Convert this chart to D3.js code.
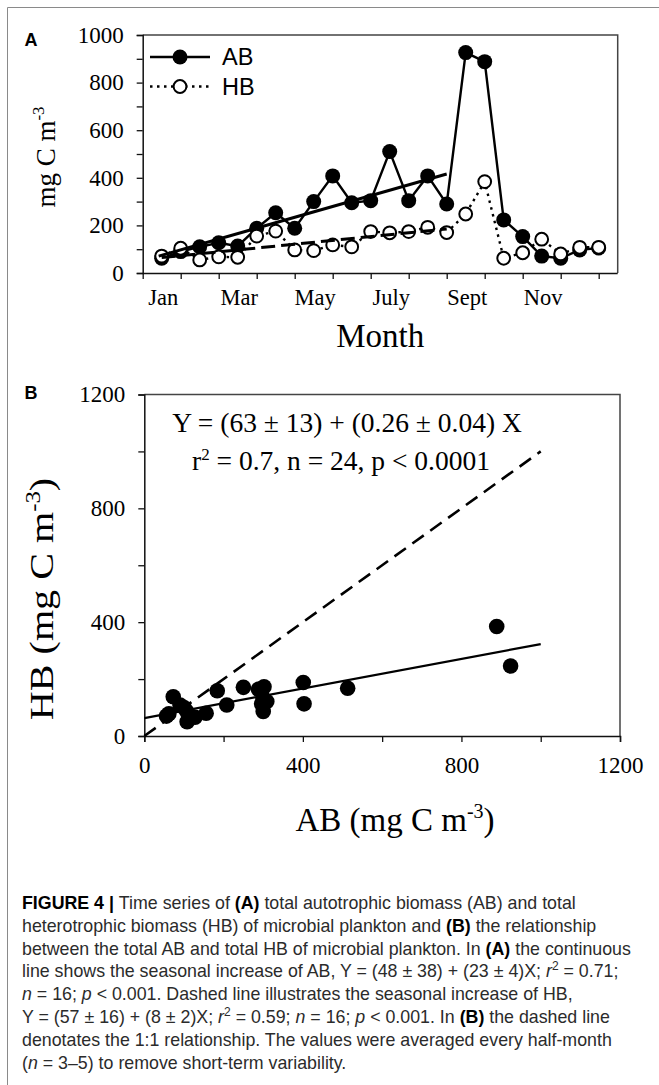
<!DOCTYPE html>
<html>
<head>
<meta charset="utf-8">
<script src="https://cdn.jsdelivr.net/npm/d3@7"></script>
<style>
  html, body { margin: 0; padding: 0; background: #fff; }
  svg { display: block; }
</style>
</head>
<body>
<script>
// ---------- DATA ----------
// Panel A: half-month index (1 = first half of Jan ... 24 = second half of Dec)
const halfMonth = [1, 2, 3, 4, 5, 6, 7, 8, 9, 10, 11, 12, 13, 14, 15, 16, 17, 18, 19, 20, 21, 22, 23, 24];
const abSeries = [62, 90, 110, 127, 113, 188, 253, 188, 300, 408, 295, 304, 510, 304, 408, 290, 926, 888, 223, 153, 71, 62, 97, 105];
const hbSeries = [71, 104, 55, 68, 66, 155, 176, 97, 94, 118, 110, 174, 169, 174, 192, 170, 248, 384, 62, 85, 142, 80, 108, 108];
const monthLabels = ["Jan", "Mar", "May", "July", "Sept", "Nov"];
const monthLabelPos = [1, 5, 9, 13, 17, 21];          // half-month index of label centre
const monthTickPos = [0, 2, 4, 6, 8, 10, 12, 14, 16, 18, 20, 22, 24];
const yTicksA = [0, 100, 200, 300, 400, 500, 600, 700, 800, 900, 1000];
// seasonal trend fits (half-month index range 1..16)
const abFit = { a: 48, b: 23, from: 1, to: 16 };
const hbFit = { a: 57, b: 8, from: 1, to: 16 };

// Panel B: AB vs HB
const abB = [56, 73, 90, 107, 108, 128, 156, 184, 208, 250, 288, 302, 300, 309, 296, 300, 401, 403, 513, 889, 924, 62, 100, 115];
const hbB = [70, 138, 109, 86, 50, 66, 80, 159, 109, 171, 164, 173, 133, 121, 113, 86, 188, 113, 168, 385, 246, 78, 100, 70];
const ticksB = [0, 200, 400, 600, 800, 1000, 1200];
const fitB = { a: 63, b: 0.26, from: 0, to: 1000 };
const oneToOne = [0, 1000];

const captionLines = [
  [["b","FIGURE 4 | "],["n","Time series of "],["b","(A)"],["n"," total autotrophic biomass (AB) and total"]],
  [["n","heterotrophic biomass (HB) of microbial plankton and "],["b","(B)"],["n"," the relationship"]],
  [["n","between the total AB and total HB of microbial plankton. In "],["b","(A)"],["n"," the continuous"]],
  [["n","line shows the seasonal increase of AB, Y = (48 \u00b1 38) + (23 \u00b1 4)X; "],["i","r"],["s","2"],["n"," = 0.71;"]],
  [["i","n"],["n"," = 16; "],["i","p"],["n"," < 0.001. Dashed line illustrates the seasonal increase of HB,"]],
  [["n","Y = (57 \u00b1 16) + (8 \u00b1 2)X; "],["i","r"],["s","2"],["n"," = 0.59; "],["i","n"],["n"," = 16; "],["i","p"],["n"," < 0.001. In "],["b","(B)"],["n"," the dashed line"]],
  [["n","denotates the 1:1 relationship. The values were averaged every half-month"]],
  [["n","("],["i","n"],["n"," = 3\u20135) to remove short-term variability."]]
];

// ---------- DRAW ----------
const W = 659, H = 1085;
const SERIF = "'Liberation Serif', 'Times New Roman', serif";
const SANS = "'Liberation Sans', Arial, Helvetica, sans-serif";

const svg = d3.select("body").append("svg").attr("width", W).attr("height", H);

// outer figure border
svg.append("path").attr("d", `M7.5,${H} V7.5 H${W}`)
  .attr("fill", "none").attr("stroke", "#8a8a8a").attr("stroke-width", 1);

// ===== Panel A =====
const xA = d3.scaleLinear().domain([0, 25]).range([142.7, 617.7]);
const yA = d3.scaleLinear().domain([0, 1000]).range([273, 35]);

const gA = svg.append("g");
gA.append("path").attr("d", `M${xA(0)},${yA(1000)} H${xA(25)} V${yA(0)}`)
  .attr("fill", "none").attr("stroke", "#444").attr("stroke-width", 1.5);

const axLA = gA.append("g").attr("transform", `translate(${xA(0)},0)`)
  .call(d3.axisLeft(yA).tickValues(yTicksA).tickSize(6).tickPadding(13)
    .tickFormat(d => d % 200 === 0 ? d : ""));
const axBA = gA.append("g").attr("transform", `translate(0,${yA(0)})`)
  .call(d3.axisBottom(xA).tickValues(monthTickPos).tickSize(6).tickFormat(""));
[axLA, axBA].forEach(a => {
  a.select(".domain").attr("stroke", "#111").attr("stroke-width", 1.5);
  a.selectAll(".tick line").attr("stroke", "#111").attr("stroke-width", 1.3);
  a.selectAll("text").attr("font-family", SERIF).attr("font-size", 23).attr("fill", "#000");
});
axBA.select(".domain").attr("d", `M${xA(0)},0.5H${xA(25)}`);

gA.selectAll(".mlab").data(monthLabels).join("text")
  .attr("x", (d, i) => xA(monthLabelPos[i]) + 1.5).attr("y", 305)
  .attr("text-anchor", "middle").attr("font-family", SERIF).attr("font-size", 22.5)
  .text(d => d);

gA.append("text").attr("x", xA(12.5)).attr("y", 347).attr("text-anchor", "middle")
  .attr("font-family", SERIF).attr("font-size", 33).text("Month");
const ytA = gA.append("text").attr("transform", "translate(55,157) rotate(-90)")
  .attr("text-anchor", "middle").attr("font-family", SERIF).attr("font-size", 27);
ytA.append("tspan").text("mg C m");
ytA.append("tspan").attr("dy", -11).attr("font-size", 17).text("-3");

svg.append("text").attr("x", 24.5).attr("y", 45.5).attr("font-family", SANS)
  .attr("font-weight", "bold").attr("font-size", 18).text("A");

const ptsAB = halfMonth.map((k, i) => [k, abSeries[i]]);
const ptsHB = halfMonth.map((k, i) => [k, hbSeries[i]]);
const lineA = d3.line().x(d => xA(d[0])).y(d => yA(d[1]));

gA.append("path").attr("d", lineA(ptsAB)).attr("fill", "none")
  .attr("stroke", "#000").attr("stroke-width", 2.4);
gA.selectAll(".ab").data(ptsAB).join("circle")
  .attr("cx", d => xA(d[0])).attr("cy", d => yA(d[1])).attr("r", 7.5).attr("fill", "#000");

gA.append("path").attr("d", lineA(ptsHB)).attr("fill", "none")
  .attr("stroke", "#000").attr("stroke-width", 2.4).attr("stroke-dasharray", "2.5,4.5");
gA.selectAll(".hb").data(ptsHB).join("circle")
  .attr("cx", d => xA(d[0])).attr("cy", d => yA(d[1])).attr("r", 6.4)
  .attr("fill", "#fff").attr("stroke", "#000").attr("stroke-width", 2);

gA.append("line")
  .attr("x1", xA(abFit.from) - 3).attr("y1", yA(abFit.a + abFit.b * abFit.from))
  .attr("x2", xA(abFit.to)).attr("y2", yA(abFit.a + abFit.b * abFit.to))
  .attr("stroke", "#000").attr("stroke-width", 3);
gA.append("line")
  .attr("x1", xA(hbFit.from)).attr("y1", yA(hbFit.a + hbFit.b * hbFit.from))
  .attr("x2", xA(hbFit.to)).attr("y2", yA(hbFit.a + hbFit.b * hbFit.to))
  .attr("stroke", "#000").attr("stroke-width", 3).attr("stroke-dasharray", "14,6");

const lg = gA.append("g");
lg.append("line").attr("x1", 150).attr("x2", 210).attr("y1", 57).attr("y2", 57)
  .attr("stroke", "#000").attr("stroke-width", 2.4);
lg.append("circle").attr("cx", 180).attr("cy", 57).attr("r", 7.5).attr("fill", "#000");
lg.append("text").attr("x", 222).attr("y", 65).attr("font-family", SANS).attr("font-size", 23.5).text("AB");
lg.append("line").attr("x1", 150).attr("x2", 209).attr("y1", 86.5).attr("y2", 86.5)
  .attr("stroke", "#000").attr("stroke-width", 2.4).attr("stroke-dasharray", "2.5,4.5");
lg.append("circle").attr("cx", 180).attr("cy", 86.5).attr("r", 6.4)
  .attr("fill", "#fff").attr("stroke", "#000").attr("stroke-width", 2);
lg.append("text").attr("x", 222).attr("y", 94.5).attr("font-family", SANS).attr("font-size", 23.5).text("HB");

// ===== Panel B =====
const xB = d3.scaleLinear().domain([0, 1200]).range([144.3, 620]);
const yB = d3.scaleLinear().domain([0, 1200]).range([736, 394.5]);
const gB = svg.append("g");
gB.append("path").attr("d", `M${xB(0)},${yB(1200)} H${xB(1200)} V${yB(0)}`)
  .attr("fill", "none").attr("stroke", "#444").attr("stroke-width", 1.5);
const axLB = gB.append("g").attr("transform", `translate(${xB(0)},0)`)
  .call(d3.axisLeft(yB).tickValues(ticksB).tickSize(6).tickPadding(13)
    .tickFormat(d => d % 400 === 0 ? d : ""));
const axBB = gB.append("g").attr("transform", `translate(0,${yB(0)})`)
  .call(d3.axisBottom(xB).tickValues(ticksB).tickSize(6).tickPadding(15)
    .tickFormat(d => d % 400 === 0 ? d : ""));
[axLB, axBB].forEach(a => {
  a.select(".domain").attr("stroke", "#111").attr("stroke-width", 1.5);
  a.selectAll(".tick line").attr("stroke", "#111").attr("stroke-width", 1.3);
  a.selectAll("text").attr("font-family", SERIF).attr("font-size", 23).attr("fill", "#000");
});

gB.append("line").attr("x1", xB(oneToOne[0])).attr("y1", yB(oneToOne[0]))
  .attr("x2", xB(oneToOne[1])).attr("y2", yB(oneToOne[1]))
  .attr("stroke", "#000").attr("stroke-width", 2.6).attr("stroke-dasharray", "14,8");
gB.append("line").attr("x1", xB(fitB.from)).attr("y1", yB(fitB.a + fitB.b * fitB.from))
  .attr("x2", xB(fitB.to)).attr("y2", yB(fitB.a + fitB.b * fitB.to))
  .attr("stroke", "#000").attr("stroke-width", 2.2);
gB.selectAll(".pb").data(abB.map((v, i) => [v, hbB[i]])).join("circle")
  .attr("cx", d => xB(d[0])).attr("cy", d => yB(d[1])).attr("r", 7.8).attr("fill", "#000");

gB.append("text").attr("x", 347).attr("y", 432).attr("text-anchor", "middle")
  .attr("font-family", SERIF).attr("font-size", 27.5)
  .text("Y = (63 \u00b1 13) + (0.26 \u00b1 0.04) X");
const eq2 = gB.append("text").attr("x", 341).attr("y", 470).attr("text-anchor", "middle")
  .attr("font-family", SERIF).attr("font-size", 27.5);
eq2.append("tspan").text("r");
eq2.append("tspan").attr("dy", -10).attr("font-size", 17).text("2");
eq2.append("tspan").attr("dy", 10).text(" = 0.7, n = 24, p < 0.0001");

const xtB = gB.append("text").attr("x", 395).attr("y", 831).attr("text-anchor", "middle")
  .attr("font-family", SERIF).attr("font-size", 33);
xtB.append("tspan").text("AB (mg C m");
xtB.append("tspan").attr("dy", -13).attr("font-size", 20).text("-3");
xtB.append("tspan").attr("dy", 13).text(")");
const ytB = gB.append("text").attr("transform", "translate(53,599) rotate(-90) scale(1.18,1)")
  .attr("text-anchor", "middle").attr("font-family", SERIF).attr("font-size", 34);
ytB.append("tspan").text("HB (mg C m");
ytB.append("tspan").attr("dy", -13).attr("font-size", 21).text("-3");
ytB.append("tspan").attr("dy", 13).text(")");

svg.append("text").attr("x", 24.5).attr("y", 398.5).attr("font-family", SANS)
  .attr("font-weight", "bold").attr("font-size", 18).text("B");

// ===== Caption =====
const cap = svg.append("g");
captionLines.forEach((parts, li) => {
  const t = cap.append("text").attr("x", 22).attr("y", 909 + li * 22.8)
    .attr("font-family", SANS).attr("font-size", 17.8).attr("fill", "#2b2b2b");
  let sup = false;
  parts.forEach(([style, str]) => {
    const ts = t.append("tspan").text(str);
    if (style === "b") ts.attr("font-weight", "bold").attr("fill", "#000");
    if (style === "i") ts.attr("font-style", "italic");
    if (style === "s") { ts.attr("font-size", 12).attr("dy", -7); sup = true; }
    else if (sup) { ts.attr("dy", 7); sup = false; }
  });
});
</script>
</body>
</html>
